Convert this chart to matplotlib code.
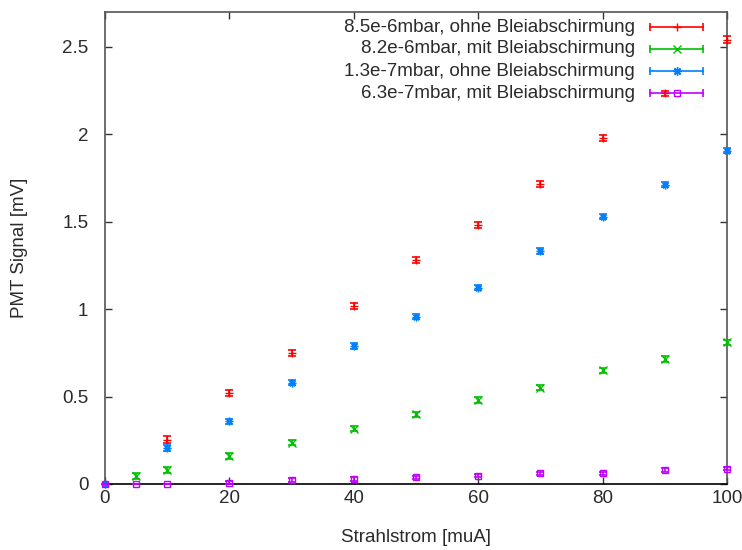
import matplotlib

matplotlib.use("Agg")
import matplotlib.pyplot as plt

# Strahlstrom [muA] and PMT signal [mV] per measurement series
x_red = [10, 20, 30, 40, 50, 60, 70, 80, 90, 100]
y_red = [0.252, 0.52, 0.75, 1.02, 1.28, 1.48, 1.715, 1.98, 2.235, 2.54]
e_red = [0.02, 0.018, 0.018, 0.018, 0.018, 0.018, 0.018, 0.018, 0.015, 0.02]

x_green = [5, 10, 20, 30, 40, 50, 60, 70, 80, 90, 100]
y_green = [0.046, 0.08, 0.16, 0.236, 0.316, 0.399, 0.48, 0.55, 0.65, 0.715, 0.81]
e_green = [0.015] * len(x_green)

x_blue = [0, 10, 20, 30, 40, 50, 60, 70, 80, 90, 100]
y_blue = [0.0, 0.206, 0.359, 0.58, 0.79, 0.957, 1.123, 1.333, 1.529, 1.712, 1.907]
e_blue = [0.002] + [0.015] * 10

x_purple = [0, 5, 10, 20, 30, 40, 50, 60, 70, 80, 90, 100]
y_purple = [0.0, 0.0, 0.0, 0.008, 0.023, 0.029, 0.038, 0.048, 0.061, 0.061, 0.08, 0.088]
e_purple = [0.002, 0.002, 0.002, 0.008, 0.01, 0.01, 0.01, 0.01, 0.01, 0.01, 0.01, 0.01]

labels = [
    "8.5e-6mbar, ohne Bleiabschirmung",
    "8.2e-6mbar, mit Bleiabschirmung",
    "1.3e-7mbar, ohne Bleiabschirmung",
    "6.3e-7mbar, mit Bleiabschirmung",
]
colors = ["#ff0000", "#00c000", "#0080ff", "#c000ff"]
markers = ["+", "x", (8, 2, 0), "s"]
xticks = [0, 20, 40, 60, 80, 100]
yticks = [0, 0.5, 1, 1.5, 2, 2.5]
ytick_labels = ["0", "0.5", "1", "1.5", "2", "2.5"]

plt.rcParams["font.family"] = ["Liberation Sans", "DejaVu Sans"]
plt.rcParams["font.size"] = 13.5

fig = plt.figure(figsize=(7.42, 5.5), dpi=100)
ax = fig.add_axes([105 / 742, 1 - 484 / 550, 622 / 742, 472 / 550])

series = [
    (x_red, y_red, e_red),
    (x_green, y_green, e_green),
    (x_blue, y_blue, e_blue),
    (x_purple, y_purple, e_purple),
]
for (xs, ys, es), col, mk in zip(series, colors, markers):
    face = "none" if mk == "s" else col
    ax.errorbar(xs, ys, yerr=es, fmt="none", ecolor=col, elinewidth=1.2,
                capsize=2.6, capthick=1.2, clip_on=False, zorder=3)
    ax.plot(xs, ys, lw=0, marker=mk, color=col, markersize=5.5 if mk != "s" else 5,
            markerfacecolor=face, markeredgewidth=1.0, clip_on=False, zorder=3)

ax.set_xlim(0, 100)
ax.set_ylim(0, 2.7)
ax.set_xticks(xticks)
ax.set_yticks(yticks)
ax.set_yticklabels(ytick_labels)
ax.tick_params(direction="in", length=5, width=1, top=True, right=True,
               colors="#333333", labelcolor="#2a2a2a")
ax.tick_params(axis="y", pad=12)
ax.tick_params(axis="x", pad=4)
for side in ("left", "right", "top"):
    ax.spines[side].set_color("#555555")
    ax.spines[side].set_linewidth(1.2)
ax.spines["bottom"].set_color("#000000")
ax.spines["bottom"].set_linewidth(1.2)

ax.set_xlabel("Strahlstrom [muA]", color="#2a2a2a", va="center")
ax.xaxis.set_label_coords(0.5, (484 - 537) / 472)
ax.set_ylabel("PMT Signal [mV]", color="#2a2a2a", va="center")
ax.yaxis.set_label_coords((20 - 105) / 622, 0.5)

# gnuplot-style key: right aligned text, error bar sample on the right
row_y = [0.968, 0.922, 0.875, 0.828]
for yk, lab, col, mk in zip(row_y, labels, colors, markers):
    ax.text(0.852, yk, lab, transform=ax.transAxes, ha="right", va="center",
            color="#2a2a2a")
    ax.plot([0.876, 0.961], [yk, yk], transform=ax.transAxes, color=col, lw=1.2,
            clip_on=False)
    ax.plot([0.876, 0.961], [yk, yk], transform=ax.transAxes, color=col, lw=0,
            marker="|", markersize=6, markeredgewidth=1.2, clip_on=False)
    face = "none" if mk == "s" else col
    ax.plot([0.919], [yk], transform=ax.transAxes, color=col, lw=0, marker=mk,
            markersize=6 if mk != "s" else 5, markerfacecolor=face,
            markeredgewidth=1.0, clip_on=False)

fig.savefig("out.png", dpi=100)
